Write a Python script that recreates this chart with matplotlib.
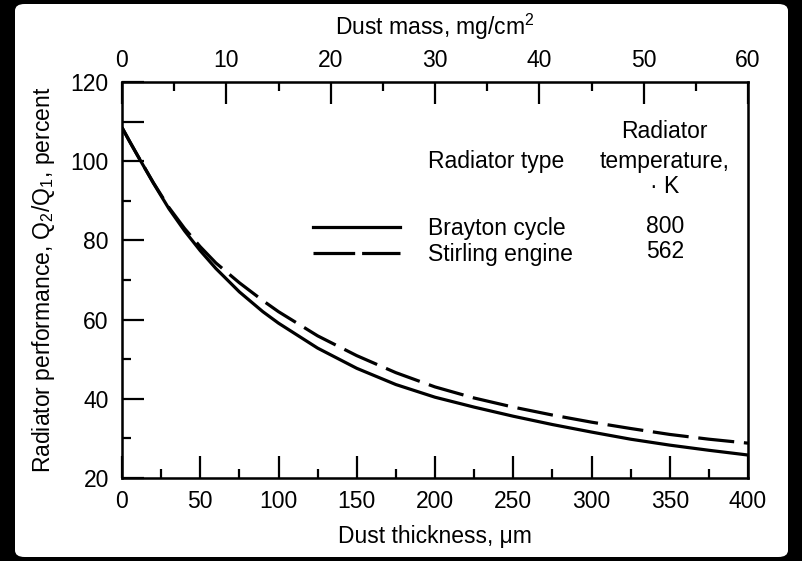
import numpy as np
import matplotlib
matplotlib.use("Agg")
import matplotlib.pyplot as plt
from matplotlib.lines import Line2D
from matplotlib.patches import FancyBboxPatch
from matplotlib.ticker import MultipleLocator, FixedLocator, FuncFormatter

plt.rcParams['font.family'] = ['Liberation Sans', 'DejaVu Sans']
plt.rcParams['mathtext.default'] = 'regular'
plt.rcParams['lines.scale_dashes'] = False

# dust thickness, um
thickness = [0, 5, 10, 20, 30, 40, 50, 60, 75, 90, 100, 125, 150, 175, 200,
             225, 250, 275, 300, 325, 350, 375, 400]
# radiator performance Q2/Q1, percent
brayton = [108.5, 104.9, 101.4, 94.5, 88.0, 82.4, 77.4, 72.9, 67.0, 62.0, 59.1,
           52.8, 47.7, 43.6, 40.4, 37.9, 35.6, 33.5, 31.6, 29.8, 28.3, 27.0, 25.8]
stirling = [108.5, 104.9, 101.4, 94.6, 88.3, 83.0, 78.4, 74.3, 69.3, 64.8, 62.0,
            55.9, 50.9, 46.6, 43.0, 40.2, 37.9, 35.9, 34.1, 32.5, 31.0, 29.8, 28.8]

radiator_types = ['Brayton cycle', 'Stirling engine']
radiator_temps = ['800', '562']

fs = 16.5

fig = plt.figure(figsize=(8.02, 5.61), dpi=100)
fig.patch.set_facecolor('black')
# white page inside the dark frame
fig.patches.append(FancyBboxPatch((15/802, 4/561), 773/802, 553/561,
                                  boxstyle="round,pad=0,rounding_size=0.012",
                                  transform=fig.transFigure, facecolor='white',
                                  edgecolor='none', zorder=-5))

ax = fig.add_axes([122/802, 83/561, 626/802, 396/561])
lw = 2.3
ax.plot(thickness, brayton, color='black', lw=lw, solid_capstyle='butt')
ax.plot(thickness, stirling, color='black', lw=lw, dashes=(26, 7))

ax.set_xlim(0, 400)
ax.set_ylim(20, 120)
ax.xaxis.set_major_locator(MultipleLocator(50))
ax.xaxis.set_minor_locator(MultipleLocator(25))
ax.yaxis.set_major_locator(FixedLocator([20, 40, 60, 80, 100, 110, 120]))
ax.yaxis.set_minor_locator(MultipleLocator(10))
ax.yaxis.set_major_formatter(FuncFormatter(lambda v, p: '' if v == 110 else f'{v:.0f}'))
ax.tick_params(which='both', direction='in', top=False, right=False, width=1.6,
               labelsize=fs)
ax.tick_params(which='major', length=16)
ax.tick_params(which='minor', length=6.5)
ax.tick_params(axis='x', pad=9)
ax.tick_params(axis='y', pad=9.5)
for sp in ax.spines.values():
    sp.set_linewidth(1.8)

ax.set_xlabel('Dust thickness, μm', fontsize=fs, labelpad=8)
ax.set_ylabel('Radiator performance, Q$_2$/Q$_1$, percent', fontsize=fs, labelpad=10)

# dust mass axis on top
top = ax.twiny()
top.set_xlim(0, 60)
top.xaxis.set_major_locator(MultipleLocator(10))
top.xaxis.set_minor_locator(MultipleLocator(5))
top.tick_params(which='both', direction='in', width=1.6, labelsize=fs)
top.tick_params(which='major', length=16, pad=7)
top.tick_params(which='minor', length=6.5)
top.set_xlabel('Dust mass, mg/cm$^2$', fontsize=fs, labelpad=10)

# key table
handles = [Line2D([], [], color='black', lw=lw),
           Line2D([], [], color='black', lw=lw, dashes=(30, 5))]
ax.legend(handles, radiator_types, loc='center left', bbox_to_anchor=(0.305, 0.597),
          frameon=False, fontsize=fs, handlelength=3.8, handletextpad=1.2,
          labelspacing=0.12, borderpad=0, borderaxespad=0)
ax.text(0.489, 0.8005, 'Radiator type', transform=ax.transAxes, fontsize=fs,
        ha='left', va='center')
for t, yy in zip(['Radiator', 'temperature,', '· K'], [0.874, 0.8005, 0.735]):
    ax.text(0.867, yy, t, transform=ax.transAxes, fontsize=fs, ha='center', va='center')
for t, yy in zip(radiator_temps, [0.636, 0.571]):
    ax.text(0.867, yy, t, transform=ax.transAxes, fontsize=fs, ha='center', va='center')

fig.savefig('out.png', dpi=100, facecolor=fig.get_facecolor())
